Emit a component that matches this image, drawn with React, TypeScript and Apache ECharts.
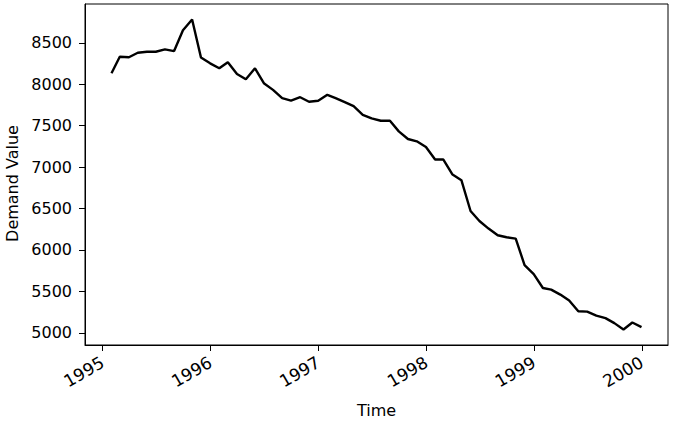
import React, { useEffect, useRef } from "react";
import * as echarts from "echarts";

const dates: string[] = [
  "1995-01-31", "1995-02-28", "1995-03-31", "1995-04-30", "1995-05-31", "1995-06-30",
  "1995-07-31", "1995-08-31", "1995-09-30", "1995-10-31", "1995-11-30", "1995-12-31",
  "1996-01-31", "1996-02-29", "1996-03-31", "1996-04-30", "1996-05-31", "1996-06-30",
  "1996-07-31", "1996-08-31", "1996-09-30", "1996-10-31", "1996-11-30", "1996-12-31",
  "1997-01-31", "1997-02-28", "1997-03-31", "1997-04-30", "1997-05-31", "1997-06-30",
  "1997-07-31", "1997-08-31", "1997-09-30", "1997-10-31", "1997-11-30", "1997-12-31",
  "1998-01-31", "1998-02-28", "1998-03-31", "1998-04-30", "1998-05-31", "1998-06-30",
  "1998-07-31", "1998-08-31", "1998-09-30", "1998-10-31", "1998-11-30", "1998-12-31",
  "1999-01-31", "1999-02-28", "1999-03-31", "1999-04-30", "1999-05-31", "1999-06-30",
  "1999-07-31", "1999-08-31", "1999-09-30", "1999-10-31", "1999-11-30", "1999-12-31",
];

const demand: number[] = [
  8132, 8332, 8325, 8380, 8392, 8392, 8420, 8400, 8652, 8781, 8323, 8252,
  8192, 8266, 8124, 8060, 8192, 8012, 7932, 7832, 7803, 7843, 7788, 7800,
  7872, 7832, 7784, 7735, 7631, 7587, 7559, 7559, 7431, 7339, 7311, 7243,
  7091, 7091, 6910, 6842, 6470, 6349, 6258, 6177, 6153, 6137, 5817, 5709,
  5541, 5521, 5461, 5389, 5260, 5256, 5208, 5177, 5117, 5040, 5124, 5068,
];

const yTicks: number[] = [5000, 5500, 6000, 6500, 7000, 7500, 8000, 8500];
const xTickYears: number[] = [1995, 1996, 1997, 1998, 1999, 2000];

const FONT = "DejaVu Sans";

export default function App() {
  const ref = useRef<HTMLDivElement>(null);
  useEffect(() => {
    if (!ref.current) return;
    const chart = echarts.init(ref.current, undefined, { renderer: "svg" });
    const ts = dates.map((d) => Date.parse(d + "T00:00:00Z"));
    const xSpan = ts[ts.length - 1] - ts[0];
    const xMin = ts[0] - 0.05 * xSpan;
    const xMax = ts[ts.length - 1] + 0.05 * xSpan;
    const yLo = Math.min(...demand);
    const yHi = Math.max(...demand);
    const ySpan = yHi - yLo;
    const yMin = yLo - 0.05 * ySpan;
    const yMax = yHi + 0.05 * ySpan;
    const xTicks = xTickYears.map((y) => Date.UTC(y, 0, 1));

    chart.setOption({
      animation: false,
      backgroundColor: "#ffffff",
      textStyle: { fontFamily: FONT },
      grid: {
        left: 85,
        right: 8,
        top: 4,
        bottom: 78,
        show: true,
        borderColor: "#000",
        borderWidth: 1,
        backgroundColor: "transparent",
        containLabel: false,
        outerBoundsMode: "none",
      },
      xAxis: {
        type: "value",
        min: xMin,
        max: xMax,
        scale: true,
        name: "Time",
        nameLocation: "middle",
        nameGap: 57,
        nameTextStyle: { fontSize: 16, color: "#000", fontFamily: FONT },
        axisLine: { show: true, lineStyle: { color: "#000", width: 1 } },
        axisTick: { show: true, length: 6, lineStyle: { color: "#000" }, customValues: xTicks },
        axisLabel: {
          customValues: xTicks,
          rotate: 30,
          fontSize: 17,
          color: "#000",
          fontFamily: FONT,
          margin: 16,
          formatter: (v: number) => String(new Date(v).getUTCFullYear()),
        },
        splitLine: { show: false },
      },
      yAxis: {
        type: "value",
        min: yMin,
        max: yMax,
        name: "Demand Value",
        nameLocation: "middle",
        nameGap: 64,
        nameTextStyle: { fontSize: 16, color: "#000", fontFamily: FONT, padding: [0, 18, 0, 0] },
        axisLine: { show: true, lineStyle: { color: "#000", width: 1 } },
        axisTick: { show: true, length: 6, lineStyle: { color: "#000" }, customValues: yTicks },
        axisLabel: {
          customValues: yTicks,
          fontSize: 16,
          color: "#000",
          fontFamily: FONT,
          margin: 13,
          formatter: (v: number) => String(v),
        },
        splitLine: { show: false },
      },
      series: [
        {
          type: "line",
          data: ts.map((t, i) => [t, demand[i]]),
          showSymbol: false,
          symbol: "none",
          lineStyle: { color: "#000", width: 2.4 },
          itemStyle: { color: "#000" },
        },
      ],
    });
    return () => chart.dispose();
  }, []);
  return (
    <div
      ref={ref}
      style={{ position: "absolute", left: 0, top: 0, width: 676, height: 423 }}
    />
  );
}
